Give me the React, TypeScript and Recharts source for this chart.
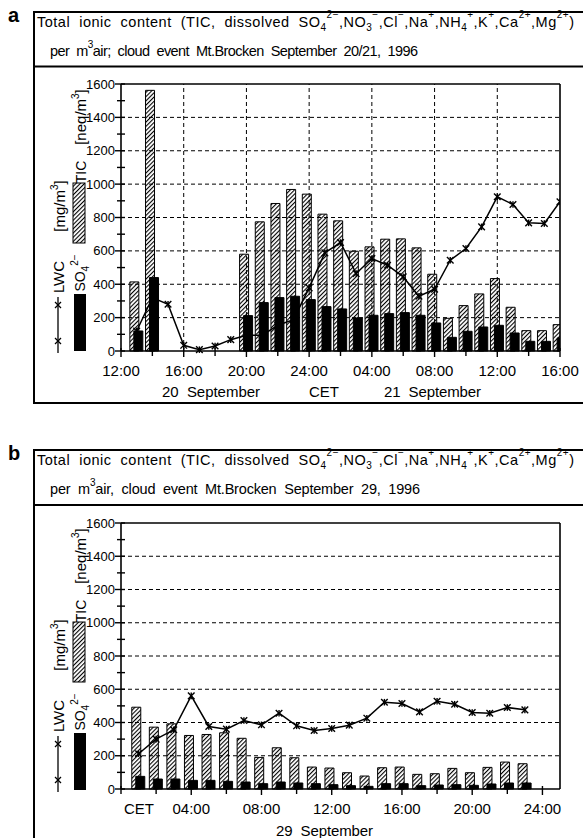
import React from 'react';
import { ComposedChart, Bar, Line, XAxis, YAxis, ReferenceLine } from 'recharts';

const FONT = '"Liberation Sans", Arial, sans-serif';
const S2 = '\u00a0 ';

// ---- Panel a: cloud event 20/21 September 1996 (hours counted from 00:00, 20 Sept) ----
const hoursA = [13, 14, 15, 16, 17, 18, 19, 20, 21, 22, 23, 24, 25, 26, 27, 28, 29, 30, 31, 32, 33, 34, 35, 36, 37, 38, 39, 40];
const ticA = [414, 1562, null, null, null, null, null, 580, 774, 884, 968, 940, 820, 780, 598, 624, 670, 672, 618, 460, 196, 272, 342, 434, 262, 122, 122, 158];
const so4A = [120, 440, null, null, null, null, null, 212, 290, 320, 328, 308, 266, 252, 198, 214, 224, 230, 214, 168, 82, 118, 144, 154, 108, 58, 58, 78];
const lwcA = [120, 320, 280, 34, 8, 30, 68, 94, 94, 154, 188, 378, 588, 650, 464, 554, 514, 444, 328, 370, 544, 614, 744, 924, 878, 768, 764, 894];
const xTicksA = [12, 14, 16, 18, 20, 22, 24, 26, 28, 30, 32, 34, 36, 38, 40];
const xLabelValsA = [12, 16, 20, 24, 28, 32, 36, 40];
const xLabelTextsA = ['12:00', '16:00', '20:00', '24:00', '04:00', '08:00', '12:00', '16:00'];
const gridXA = [16, 20, 24, 28, 32, 36];

// ---- Panel b: cloud event 29 September 1996 (hours of day) ----
const hoursB = [1, 2, 3, 4, 5, 6, 7, 8, 9, 10, 11, 12, 13, 14, 15, 16, 17, 18, 19, 20, 21, 22, 23];
const ticB = [492, 372, 392, 322, 328, 338, 305, 190, 248, 188, 132, 126, 98, 78, 128, 132, 88, 92, 124, 98, 130, 162, 152];
const so4B = [76, 60, 60, 52, 52, 46, 42, 32, 42, 36, 32, 26, 20, 16, 32, 32, 20, 24, 26, 22, 30, 36, 36];
const lwcB = [212, 300, 356, 560, 376, 360, 412, 386, 456, 380, 352, 364, 384, 426, 522, 514, 464, 528, 510, 460, 456, 490, 476];
const xTicksB = [0, 2, 4, 6, 8, 10, 12, 14, 16, 18, 20, 22, 24];
const xLabelValsB = [4, 8, 12, 16, 20, 24];
const xLabelTextsB = ['04:00', '08:00', '12:00', '16:00', '20:00', '24:00'];
const gridXB: number[] = [];

// ---- shared y axis ----
const yTicks = [0, 100, 200, 300, 400, 500, 600, 700, 800, 900, 1000, 1100, 1200, 1300, 1400, 1500, 1600];
const yLabelVals = [0, 200, 400, 600, 800, 1000, 1200, 1400, 1600];
const gridY = [200, 400, 600, 800, 1000, 1200, 1400];

const toRows = (hours: number[], tic: (number | null)[], so4: (number | null)[], lwc: number[]) =>
  hours.map((h, i) => ({ h, tic: tic[i], so4: so4[i], lwc: lwc[i] }));

const YTick = (props: any) => {
  const { x, y, payload } = props;
  const v = payload.value;
  const major = yLabelVals.includes(v);
  return (
    <g>
      <line x1={x - (major ? 6 : 4)} x2={x + 4} y1={y} y2={y} stroke="#000" strokeWidth={1.4} />
      {major && (
        <text x={x - 6} y={y + 4.5} textAnchor="end" fontSize={13} fontFamily={FONT} fill="#000">
          {v}
        </text>
      )}
    </g>
  );
};

const makeXTick = (vals: number[], texts: string[]) => (props: any) => {
  const { x, y, payload } = props;
  const idx = vals.indexOf(payload.value);
  return (
    <g>
      <line x1={x} x2={x} y1={y - 3} y2={y + (idx >= 0 ? 6 : 5)} stroke="#000" strokeWidth={1.4} />
      {idx >= 0 && (
        <text x={x} y={y + 25} textAnchor="middle" fontSize={15} fontFamily={FONT} fill="#000">
          {texts[idx]}
        </text>
      )}
    </g>
  );
};

const StarDot = (props: any) => {
  const { cx, cy, key } = props;
  if (cx == null || cy == null) return <g key={key} />;
  const r = 3.3;
  return (
    <g key={key} stroke="#000" strokeWidth={1.4}>
      <line x1={cx - r} y1={cy - r} x2={cx + r} y2={cy + r} />
      <line x1={cx - r} y1={cy + r} x2={cx + r} y2={cy - r} />
      <line x1={cx} y1={cy - r} x2={cx} y2={cy + r} />
    </g>
  );
};

type PanelProps = {
  id: string;
  data: any[];
  domain: [number, number];
  xTicks: number[];
  labelVals: number[];
  labelTexts: string[];
  gridX: number[];
  top: number;
  height: number;
  plotTop: number;
  plotBottom: number;
};

const Panel = ({ id, data, domain, xTicks, labelVals, labelTexts, gridX, top, height, plotTop, plotBottom }: PanelProps) => {
  const margin = { top: plotTop - top, right: 23, left: 61, bottom: top + height - plotBottom - 30 };
  return (
    <div style={{ position: 'absolute', left: 0, top }}>
      <ComposedChart width={583} height={height} data={data} margin={margin} barGap={-5}>
        <defs>
          <pattern id={`hatch-${id}`} patternUnits="userSpaceOnUse" width="3" height="3" patternTransform="rotate(45)">
            <rect width="3" height="3" fill="#fff" />
            <line x1="0.5" y1="0" x2="0.5" y2="3" stroke="#000" strokeWidth="1.2" />
          </pattern>
        </defs>
        {gridY.map((v) => (
          <ReferenceLine key={`gy${v}`} y={v} stroke="#000" strokeWidth={1} strokeDasharray="4 3" />
        ))}
        {gridX.map((v) => (
          <ReferenceLine key={`gx${v}`} x={v} stroke="#000" strokeWidth={1} strokeDasharray="4 3" />
        ))}
        <XAxis
          dataKey="h"
          type="number"
          domain={domain}
          allowDataOverflow
          ticks={xTicks}
          interval={0}
          tickSize={0}
          tickMargin={0}
          tickLine={false}
          axisLine={{ stroke: '#000', strokeWidth: 1.6 }}
          tick={makeXTick(labelVals, labelTexts)}
          height={30}
        />
        <YAxis
          type="number"
          domain={[0, 1600]}
          ticks={yTicks}
          interval={0}
          tickSize={0}
          tickMargin={0}
          tickLine={false}
          axisLine={{ stroke: '#000', strokeWidth: 1.6 }}
          tick={<YTick />}
          width={60}
        />
        <Bar dataKey="tic" barSize={9} fill={`url(#hatch-${id})`} stroke="#000" strokeWidth={1} isAnimationActive={false} />
        <Bar dataKey="so4" barSize={9} fill="#000" stroke="#000" strokeWidth={1} isAnimationActive={false} />
        <ReferenceLine y={1600} stroke="#000" strokeWidth={1.6} />
        <ReferenceLine x={domain[1]} stroke="#000" strokeWidth={1.6} />
        <Line
          dataKey="lwc"
          type="linear"
          stroke="#000"
          strokeWidth={1.5}
          dot={StarDot}
          activeDot={false}
          isAnimationActive={false}
        />
      </ComposedChart>
    </div>
  );
};

const SUB = 4;
const SUP = -5;

const TitleRow1 = ({ x, y, len }: { x: number; y: number; len: number }) => (
  <text x={x} y={y} fontSize={14.5} fontFamily={FONT} textLength={len} lengthAdjust="spacing" fill="#000">
    <tspan>{`Total${S2}ionic${S2}content${S2}(TIC,${S2}dissolved${S2}SO`}</tspan>
    <tspan dy={SUB} fontSize={10}>4</tspan>
    <tspan dy={SUP - SUB - 4} fontSize={10}>2−</tspan>
    <tspan dy={-SUP + 4}>,NO</tspan>
    <tspan dy={SUB} fontSize={10}>3</tspan>
    <tspan dy={SUP - SUB - 4} fontSize={10}>−</tspan>
    <tspan dy={-SUP + 4}>,Cl</tspan>
    <tspan dy={SUP - 4} fontSize={10}>−</tspan>
    <tspan dy={-SUP + 4}>,Na</tspan>
    <tspan dy={SUP - 4} fontSize={10}>+</tspan>
    <tspan dy={-SUP + 4}>,NH</tspan>
    <tspan dy={SUB} fontSize={10}>4</tspan>
    <tspan dy={SUP - SUB - 4} fontSize={10}>+</tspan>
    <tspan dy={-SUP + 4}>,K</tspan>
    <tspan dy={SUP - 4} fontSize={10}>+</tspan>
    <tspan dy={-SUP + 4}>,Ca</tspan>
    <tspan dy={SUP - 4} fontSize={10}>2+</tspan>
    <tspan dy={-SUP + 4}>,Mg</tspan>
    <tspan dy={SUP - 4} fontSize={10}>2+</tspan>
    <tspan dy={-SUP + 4}>)</tspan>
  </text>
);

const TitleRow2 = ({ x, y, len, rest }: { x: number; y: number; len: number; rest: string }) => (
  <text x={x} y={y} fontSize={14.5} fontFamily={FONT} textLength={len} lengthAdjust="spacing" fill="#000">
    <tspan>{`per${S2}m`}</tspan>
    <tspan dy={-8} fontSize={10}>3</tspan>
    <tspan dy={8}>{rest}</tspan>
  </text>
);

const Legend = ({ id, dy }: { id: string; dy: number }) => (
  <g fontFamily={FONT} fill="#000">
    <text transform={`translate(86,${117 + dy}) rotate(-90)`} textAnchor="middle" fontSize={15}>
      <tspan>[neq/m</tspan>
      <tspan dy={-7} fontSize={10}>3</tspan>
      <tspan dy={7}>]</tspan>
    </text>
    <text transform={`translate(86,${172 + dy}) rotate(-90)`} textAnchor="middle" fontSize={14}>TIC</text>
    <rect x={73} y={183 + dy} width={12} height={60} fill={`url(#lhatch-${id})`} stroke="#000" strokeWidth={1} />
    <text transform={`translate(65,${206 + dy}) rotate(-90)`} textAnchor="middle" fontSize={15}>
      <tspan>[mg/m</tspan>
      <tspan dy={-7} fontSize={10}>3</tspan>
      <tspan dy={7}>]</tspan>
    </text>
    <text transform={`translate(64,${277 + dy}) rotate(-90)`} textAnchor="middle" fontSize={15}>LWC</text>
    <text transform={`translate(85,${273 + dy}) rotate(-90)`} textAnchor="middle" fontSize={14}>
      <tspan>SO</tspan>
      <tspan dy={4} fontSize={10}>4</tspan>
      <tspan dy={-11} fontSize={10}>2−</tspan>
    </text>
    <rect x={74} y={294 + dy} width={12} height={57} fill="#000" />
    <line x1={58} x2={58} y1={297 + dy} y2={353 + dy} stroke="#000" strokeWidth={1.3} />
    {[305, 341].map((yy) => (
      <g key={yy} stroke="#000" strokeWidth={1.3}>
        <line x1={55} x2={61} y1={yy + dy - 3} y2={yy + dy + 3} />
        <line x1={55} x2={61} y1={yy + dy + 3} y2={yy + dy - 3} />
      </g>
    ))}
  </g>
);

export default function App() {
  const dataA = toRows(hoursA, ticA, so4A, lwcA);
  const dataB = toRows(hoursB, ticB, so4B, lwcB);
  return (
    <div style={{ position: 'absolute', left: 0, top: 0, width: 583, height: 838, overflow: 'hidden', background: '#fff' }}>
      <Panel id="a" data={dataA} domain={[12, 40]} xTicks={xTicksA} labelVals={xLabelValsA} labelTexts={xLabelTextsA}
        gridX={gridXA} top={0} height={420} plotTop={84} plotBottom={351} />
      <Panel id="b" data={dataB} domain={[0, 25]} xTicks={xTicksB} labelVals={xLabelValsB} labelTexts={xLabelTextsB}
        gridX={gridXB} top={430} height={408} plotTop={523} plotBottom={789} />
      <svg width={583} height={838} style={{ position: 'absolute', left: 0, top: 0, pointerEvents: 'none' }}>
        <defs>
          {['a', 'b'].map((k) => (
            <pattern key={k} id={`lhatch-${k}`} patternUnits="userSpaceOnUse" width="3" height="3" patternTransform="rotate(45)">
              <rect width="3" height="3" fill="#fff" />
              <line x1="0.5" y1="0" x2="0.5" y2="3" stroke="#000" strokeWidth="1.2" />
            </pattern>
          ))}
        </defs>
        {/* panel a frame */}
        <text x={8} y={22} fontSize={20} fontWeight="bold" fontFamily={FONT}>a</text>
        <rect x={34} y={12} width={600} height={391} fill="none" stroke="#000" strokeWidth={2} />
        <line x1={34} x2={583} y1={66.5} y2={66.5} stroke="#000" strokeWidth={2} />
        <TitleRow1 x={37} y={27} len={537} />
        <TitleRow2 x={50} y={56} len={368} rest={`air;${S2}cloud${S2}event${S2}Mt.Brocken${S2}September${S2}20/21,${S2}1996`} />
        <Legend id="a" dy={0} />
        <g fontFamily={FONT} fontSize={15} fill="#000">
          <text x={162} y={397} textLength={98} lengthAdjust="spacing">{`20${S2}September`}</text>
          <text x={324} y={397} textAnchor="middle">CET</text>
          <text x={384} y={397} textLength={97} lengthAdjust="spacing">{`21${S2}September`}</text>
        </g>
        {/* panel b frame */}
        <text x={8} y={460} fontSize={20} fontWeight="bold" fontFamily={FONT}>b</text>
        <rect x={34} y={450} width={600} height={420} fill="none" stroke="#000" strokeWidth={2} />
        <line x1={34} x2={583} y1={505} y2={505} stroke="#000" strokeWidth={2} />
        <TitleRow1 x={37} y={465} len={537} />
        <TitleRow2 x={50} y={494} len={370} rest={`air,${S2}cloud${S2}event${S2}Mt.Brocken${S2}September${S2}29,${S2}1996`} />
        <Legend id="b" dy={439} />
        <g fontFamily={FONT} fontSize={15} fill="#000">
          <text x={139} y={814} textAnchor="middle">CET</text>
          <text x={276} y={836} textLength={97} lengthAdjust="spacing">{`29${S2}September`}</text>
        </g>
      </svg>
    </div>
  );
}
